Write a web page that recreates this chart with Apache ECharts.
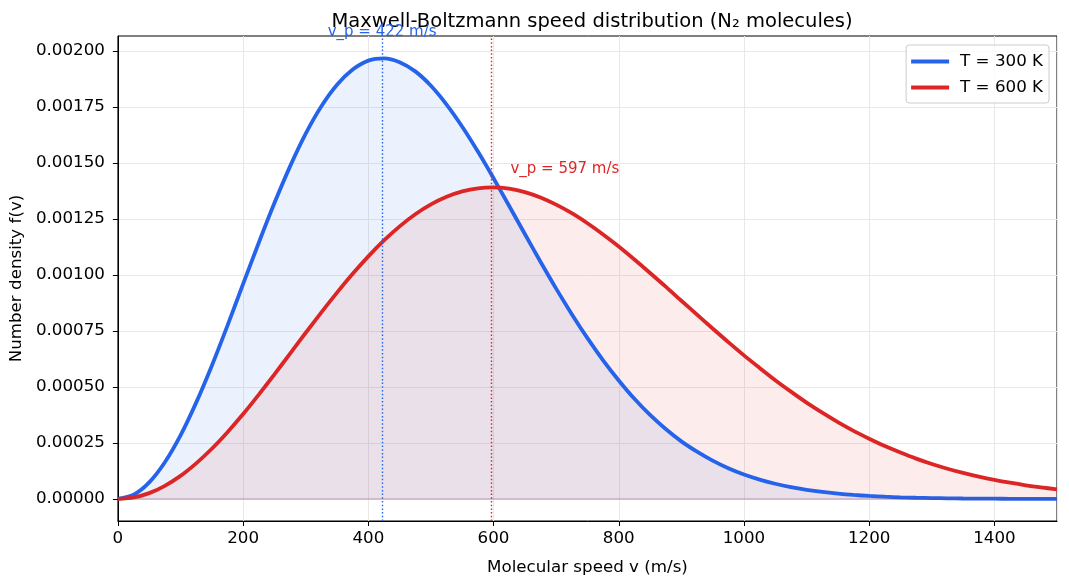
<!DOCTYPE html>
<html>
<head>
<meta charset="utf-8">
<script src="https://cdn.jsdelivr.net/npm/echarts@6/dist/echarts.min.js"></script>
<style>
  html, body { margin: 0; padding: 0; background: #fff; }
  #main { width: 1069px; height: 588px; }
</style>
</head>
<body>
<div id="main"></div>
<script>
// speeds (m/s) sampled every 25
const speeds = [0, 25, 50, 75, 100, 125, 150, 175, 200, 225, 250, 275, 300, 325, 350, 375,
  400, 425, 450, 475, 500, 525, 550, 575, 600, 625, 650, 675, 700, 725, 750, 775,
  800, 825, 850, 875, 900, 925, 950, 975, 1000, 1025, 1050, 1075, 1100, 1125, 1150, 1175,
  1200, 1225, 1250, 1275, 1300, 1325, 1350, 1375, 1400, 1425, 1450, 1475, 1500];

// f(v)
const f300 = [0, 0.0000187, 0.000074, 0.000164, 0.000284, 0.00043, 0.000595, 0.000774,
  0.00096, 0.001144, 0.001321, 0.001485, 0.001631, 0.001753, 0.001849, 0.001917,
  0.001957, 0.001967, 0.00195, 0.001909, 0.001845, 0.001761, 0.001662, 0.001551,
  0.001432, 0.001308, 0.001183, 0.001059, 0.000939, 0.000825, 0.000718, 0.000619,
  0.000529, 0.000447, 0.000375, 0.000312, 0.000257, 0.000211, 0.000171, 0.000137,
  0.000109, 0.0000864, 0.0000678, 0.0000527, 0.0000407, 0.0000311, 0.0000237, 0.0000178,
  0.0000133, 0.0000099, 0.0000073, 0.0000053, 0.0000038, 0.0000028, 0.000002, 0.0000014,
  0.000001, 0.0000007, 0.0000005, 0.0000003, 0.0000002];
const f600 = [0, 0.0000066, 0.000026, 0.0000587, 0.000103, 0.000159, 0.000224, 0.000298,
  0.000379, 0.000466, 0.000556, 0.000649, 0.000742, 0.000833, 0.000921, 0.001005,
  0.001083, 0.001154, 0.001217, 0.001271, 0.001315, 0.001349, 0.001373, 0.001387,
  0.001391, 0.001385, 0.00137, 0.001346, 0.001314, 0.001276, 0.001231, 0.001181,
  0.001127, 0.001069, 0.001009, 0.000948, 0.000885, 0.000823, 0.000761, 0.0007,
  0.000641, 0.000585, 0.00053, 0.000479, 0.00043, 0.000385, 0.000343, 0.000304,
  0.000269, 0.000236, 0.000207, 0.00018, 0.000156, 0.000135, 0.000116, 0.0000996,
  0.000085, 0.0000723, 0.0000611, 0.0000515, 0.000043];

// most probable speeds and the peak heights used for the annotations
const peakSpeeds = [422, 597];
const peakValues = [0.001967, 0.001391];
const peakLabels = ["v_p = 422 m/s", "v_p = 597 m/s"];

const yTicks = [0, 0.00025, 0.0005, 0.00075, 0.001, 0.00125, 0.0015, 0.00175, 0.002];

const BLUE = "#2563eb";
const RED = "#dc2626";
const FONT = "DejaVu Sans";

const chart = echarts.init(document.getElementById("main"));

const pts = (ys) => speeds.map((v, i) => [v, ys[i]]);

// dotted marker at v_p, plus the faint edge of the fill along f = 0
const markers = (x, color) => ({
  silent: true,
  symbol: ["none", "none"],
  label: { show: false },
  emphasis: { disabled: true },
  data: [
    { xAxis: x, lineStyle: { color: color, type: [1.5, 2.2], width: 1.4, opacity: 1 } },
    { yAxis: 0, lineStyle: { color: "rgba(120,60,100,0.12)", type: "solid", width: 2 } },
  ],
});

const option = {
  animation: false,
  textStyle: { fontFamily: FONT },
  title: {
    text: "Maxwell-Boltzmann speed distribution (N\u2082 molecules)",
    left: 587,
    top: 7,
    textAlign: "center",
    textStyle: { fontFamily: FONT, fontSize: 19.5, fontWeight: "normal", color: "#000" },
  },
  legend: {
    orient: "vertical",
    right: 20,
    top: 45,
    icon: "rect",
    itemWidth: 38,
    itemHeight: 4,
    itemGap: 9,
    padding: [8, 6, 7, 5],
    backgroundColor: "rgba(255,255,255,0.8)",
    borderColor: "#cccccc",
    borderWidth: 1,
    borderRadius: 3,
    textStyle: { fontFamily: FONT, fontSize: 16.7, color: "#000", padding: [0, 0, 0, 6] },
    data: ["T = 300 K", "T = 600 K"],
  },
  grid: {
    left: 117,
    right: 12,
    top: 36,
    bottom: 67,
    show: true,
    borderColor: "#000",
    borderWidth: 1,
  },
  xAxis: {
    type: "value",
    min: 0,
    max: 1500,
    interval: 200,
    name: "Molecular speed v (m/s)",
    nameLocation: "middle",
    nameGap: 38,
    nameTextStyle: { fontFamily: FONT, fontSize: 16.7, color: "#000" },
    axisLine: { onZero: false, lineStyle: { color: "#000", width: 1 } },
    axisTick: { length: 5, lineStyle: { color: "#000" } },
    axisLabel: {
      showMaxLabel: false,
      margin: 9,
      fontFamily: FONT,
      fontSize: 16.7,
      color: "#000",
      formatter: (v) => String(v),
    },
    splitLine: { show: true, lineStyle: { color: "#e8e8e8", width: 1 } },
  },
  yAxis: {
    type: "value",
    min: -0.0000985,
    max: 0.002067,
    name: "Number density f(v)",
    nameLocation: "middle",
    nameGap: 85,
    nameTextStyle: { fontFamily: FONT, fontSize: 16.7, color: "#000" },
    axisLine: { show: true, lineStyle: { color: "#000", width: 1 } },
    axisTick: { show: true, length: 5, lineStyle: { color: "#000" }, customValues: yTicks },
    axisLabel: {
      customValues: yTicks,
      margin: 13,
      fontFamily: FONT,
      fontSize: 16.7,
      color: "#000",
      formatter: (v) => v.toFixed(5),
    },
    splitLine: { show: true, lineStyle: { color: "#e8e8e8", width: 1 } },
  },
  series: [
    {
      name: "T = 300 K",
      type: "line",
      data: pts(f300),
      smooth: 0.3,
      showSymbol: false,
      lineStyle: { color: BLUE, width: 3.8 },
      itemStyle: { color: BLUE },
      areaStyle: { color: "rgba(37,99,235,0.12)" },
      markLine: markers(peakSpeeds[0], BLUE),
    },
    {
      name: "T = 600 K",
      type: "line",
      data: pts(f600),
      smooth: 0.3,
      showSymbol: false,
      lineStyle: { color: RED, width: 3.8 },
      itemStyle: { color: RED },
      areaStyle: { color: "rgba(220,38,38,0.12)" },
      markLine: markers(peakSpeeds[1], RED),
    },
  ],
};

chart.setOption(option);

// peak annotations, placed through the axes
const p0 = chart.convertToPixel({ gridIndex: 0 }, [peakSpeeds[0], peakValues[0] * 1.06]);
const p1 = chart.convertToPixel({ gridIndex: 0 }, [peakSpeeds[1] + 30, peakValues[1] * 1.06]);
chart.setOption({
  graphic: [
    {
      type: "text",
      x: p0[0],
      y: p0[1],
      z: 10,
      style: {
        text: peakLabels[0],
        fill: BLUE,
        font: "15px 'DejaVu Sans'",
        textAlign: "center",
        textVerticalAlign: "middle",
      },
    },
    {
      type: "text",
      x: p1[0],
      y: p1[1],
      z: 10,
      style: {
        text: peakLabels[1],
        fill: RED,
        font: "15px 'DejaVu Sans'",
        textAlign: "left",
        textVerticalAlign: "middle",
      },
    },
  ],
});
</script>
</body>
</html>
